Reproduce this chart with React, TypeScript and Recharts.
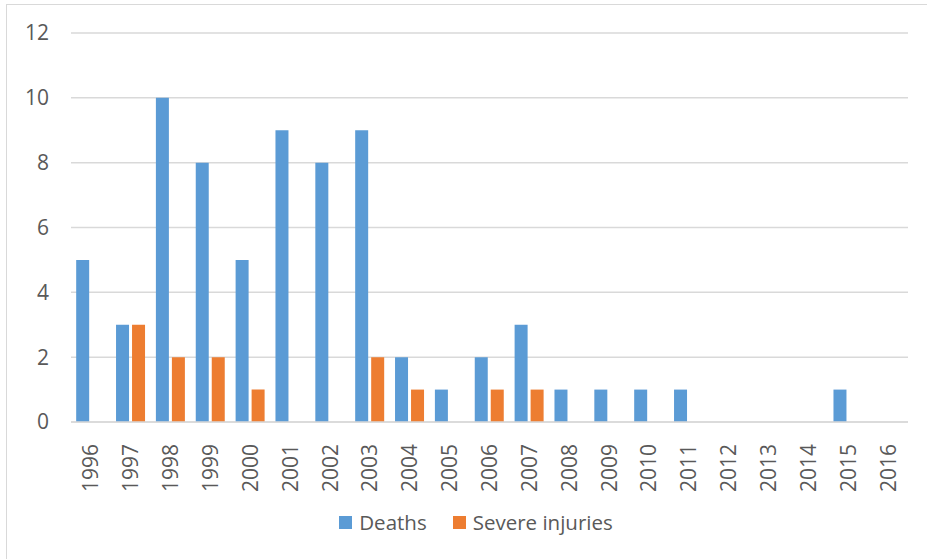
import React from 'react';
import { BarChart, Bar, XAxis, YAxis, CartesianGrid, Legend } from 'recharts';

const years = ['1996', '1997', '1998', '1999', '2000', '2001', '2002', '2003', '2004', '2005', '2006',
  '2007', '2008', '2009', '2010', '2011', '2012', '2013', '2014', '2015', '2016'];
const deaths = [5, 3, 10, 8, 5, 9, 8, 9, 2, 1, 2, 3, 1, 1, 1, 1, 0, 0, 0, 1, 0];
const severeInjuries = [0, 3, 2, 2, 1, 0, 0, 2, 1, 0, 1, 1, 0, 0, 0, 0, 0, 0, 0, 0, 0];
const yTicks = [0, 2, 4, 6, 8, 10, 12];

const BLUE = '#5B9BD5';
const ORANGE = '#ED7D31';
const TEXT = '#595959';
const FONT = '"Open Sans", sans-serif';

const data = years.map((year, i) => ({
  year,
  deaths: deaths[i],
  severe: severeInjuries[i],
}));

// rotated year labels, reading bottom to top
const YearTick = (props: any) => {
  const { x, y, payload } = props;
  return (
    <text
      x={x}
      y={y + 14}
      transform={`rotate(-90, ${x}, ${y + 14})`}
      textAnchor="end"
      dy="0.36em"
      fill={TEXT}
      fontSize={21}
      fontFamily={FONT}
    >
      {payload.value}
    </text>
  );
};

const legendItems = [
  { label: 'Deaths', color: BLUE },
  { label: 'Severe injuries', color: ORANGE },
];

const LegendContent = () => (
  <div style={{ display: 'flex', justifyContent: 'center', alignItems: 'center', height: 30, paddingLeft: 44 }}>
    {legendItems.map((item, i) => (
      <div key={item.label} style={{ display: 'flex', alignItems: 'center', marginLeft: i ? 26 : 0 }}>
        <span style={{ width: 13, height: 13, background: item.color, display: 'inline-block', marginRight: 7 }} />
        <span style={{ fontFamily: FONT, fontSize: 20.5, color: TEXT }}>{item.label}</span>
      </div>
    ))}
  </div>
);

export default function App() {
  return (
    <div style={{ position: 'absolute', left: 0, top: 0, width: 927, height: 559, overflow: 'hidden', background: '#fff' }}>
      <div style={{ position: 'absolute', left: 6, top: 4, width: 980, height: 620, border: '1px solid #d9d9d9' }} />
      <div style={{ position: 'absolute', left: 0, top: 0 }}>
        <BarChart
          width={927}
          height={559}
          data={data}
          margin={{ top: 33, right: 19, left: 0, bottom: 22 }}
          barCategoryGap="13%"
          barGap={3}
        >
          <CartesianGrid vertical={false} stroke="#d9d9d9" strokeWidth={1.5} />
          <XAxis
            dataKey="year"
            height={85}
            interval={0}
            tick={<YearTick />}
            tickLine={false}
            axisLine={{ stroke: '#d9d9d9', strokeWidth: 1.5 }}
          />
          <YAxis
            width={71}
            domain={[0, 12]}
            ticks={yTicks}
            tickLine={false}
            axisLine={false}
            tickSize={0}
            tickMargin={22}
            tick={{ fill: TEXT, fontSize: 21, fontFamily: FONT }}
          />
          <Legend verticalAlign="bottom" height={30} content={<LegendContent />} />
          <Bar dataKey="deaths" name="Deaths" fill={BLUE} isAnimationActive={false} />
          <Bar dataKey="severe" name="Severe injuries" fill={ORANGE} isAnimationActive={false} />
        </BarChart>
      </div>
    </div>
  );
}
